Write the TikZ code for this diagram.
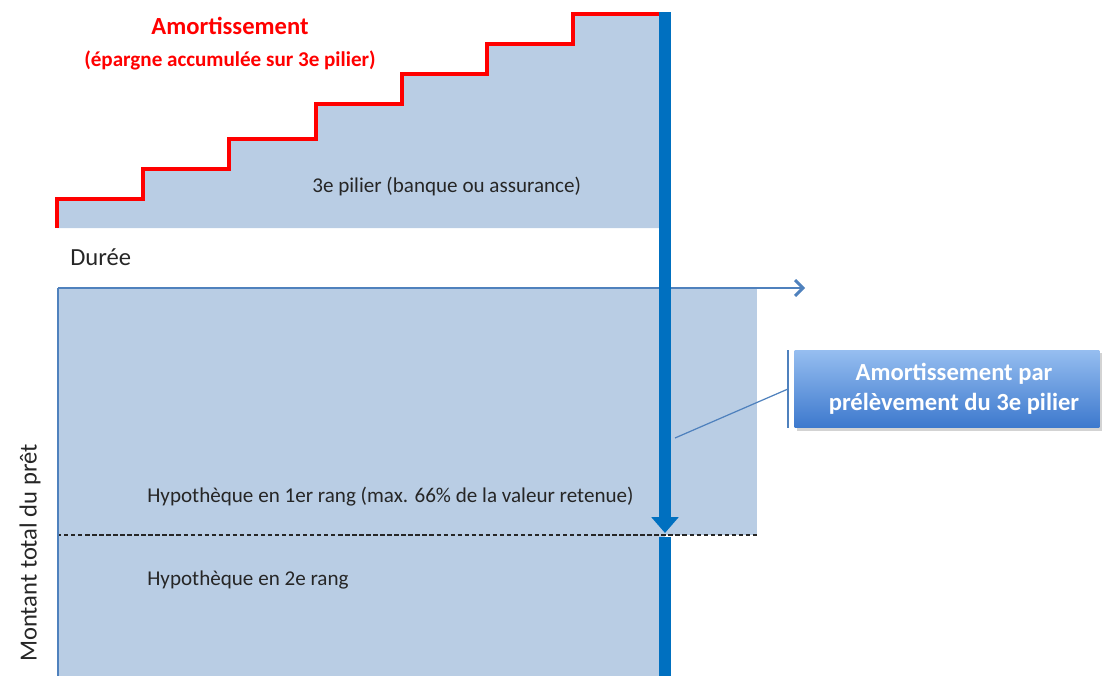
\documentclass[tikz,border=0pt]{standalone}
\usepackage{fontspec}
\setmainfont{Carlito}
\usetikzlibrary{arrows.meta,shadows}
\definecolor{fondbleu}{RGB}{185,205,228}
\definecolor{axebleu}{RGB}{79,129,189}
\definecolor{barrebleu}{RGB}{0,112,192}
\definecolor{gristexte}{RGB}{38,38,38}
\definecolor{boitehaut}{RGB}{150,190,240}
\definecolor{boitebas}{RGB}{60,120,205}

\begin{document}
\begin{tikzpicture}[x=0.02cm,y=-0.02cm,
  libelle/.style={anchor=base west,inner sep=0pt,text=gristexte,font=\fontsize{12}{14}\selectfont},
  titre/.style={anchor=base,inner sep=0pt,text=red,font=\bfseries\fontsize{#1}{#1}\selectfont},
  axe/.style={draw=axebleu,line width=1.7pt},
  barre/.style={draw=barrebleu,line width=7pt},
  boite/.style={draw=none,top color=boitehaut,bottom color=boitebas,text=white,
    font=\bfseries\fontsize{14}{17}\selectfont,align=center,
    minimum width=6.1cm,minimum height=1.56cm,inner sep=0pt,
    drop shadow={shadow xshift=1.2pt,shadow yshift=-1.5pt,opacity=0.35}}]
\useasboundingbox (0,0) rectangle (1102,676);

\fill[color=fondbleu] (57,228) -- (57,199) -- (143,199) -- (143,169) -- (229,169) -- (229,139)
  -- (316,139) -- (316,104) -- (402,104) -- (402,74) -- (487,74) -- (487,44) -- (573,44)
  -- (573,14) -- (659,14) -- (659,228) -- cycle;
\fill[color=fondbleu] (57,288) rectangle (757,535);
\fill[color=fondbleu] (57,535) rectangle (665,676);
\draw[red,line width=2.6pt] (57,228) -- (57,199) -- (143,199) -- (143,169) -- (229,169) -- (229,139)
  -- (316,139) -- (316,104) -- (402,104) -- (402,74) -- (487,74) -- (487,44) -- (573,44)
  -- (573,14) -- (661,14);

\draw[gristexte,line width=0.8pt,dash pattern=on 2.5pt off 1.5pt] (57,535) -- (757,535);

\coordinate (origine) at (58,288);
\coordinate (finduree) at (805,288);
\coordinate (basaxe) at (58,676);
\draw[axe] (basaxe) -- (origine);
\draw[axe,-{Straight Barb[length=4.5pt,width=9pt]}] (origine) -- (finduree);

\coordinate (hautbarre) at (665,12);
\coordinate (pointe) at (665,533);
\coordinate (reprise) at (665,537);
\coordinate (basbarre) at (665,676);
\draw[barre,-{Triangle[width=15pt,length=9pt]}] (hautbarre) -- (pointe);
\draw[barre] (reprise) -- (basbarre);

\node[titre=14] (amort) at (230,34) {Amortissement};
\node[titre=12] (epargne) at (230,66) {(épargne accumulée sur 3e pilier)};

\node[libelle] (pilier) at (312,192) {3e pilier (banque ou assurance)};
\node[libelle,font=\fontsize{14}{16}\selectfont] (duree) at (70,265) {Durée};
\node[libelle] (rang1) at (147,502) {Hypothèque en 1er rang (max. 66\% de la valeur retenue)};
\node[libelle] (rang2) at (147,585) {Hypothèque en 2e rang};
\node[text=gristexte,font=\fontsize{14}{16}\selectfont,rotate=90,inner sep=0pt] (montant) at (30,553) {Montant total du prêt};

\node[boite] (callout) at (947,389) {\hspace*{8pt}Amortissement par\\\hspace*{8pt}prélèvement du 3e pilier};
\coordinate (crochethaut) at (788,350);
\coordinate (crochetbas) at (788,428);
\coordinate (crochetmil) at (788,389);
\coordinate (surbarre) at (675,438);
\draw[axebleu,line width=0.7pt] (crochethaut) -- (crochetbas);
\draw[axebleu,line width=0.7pt] (crochetmil) -- (surbarre);
\end{tikzpicture}
\end{document}
